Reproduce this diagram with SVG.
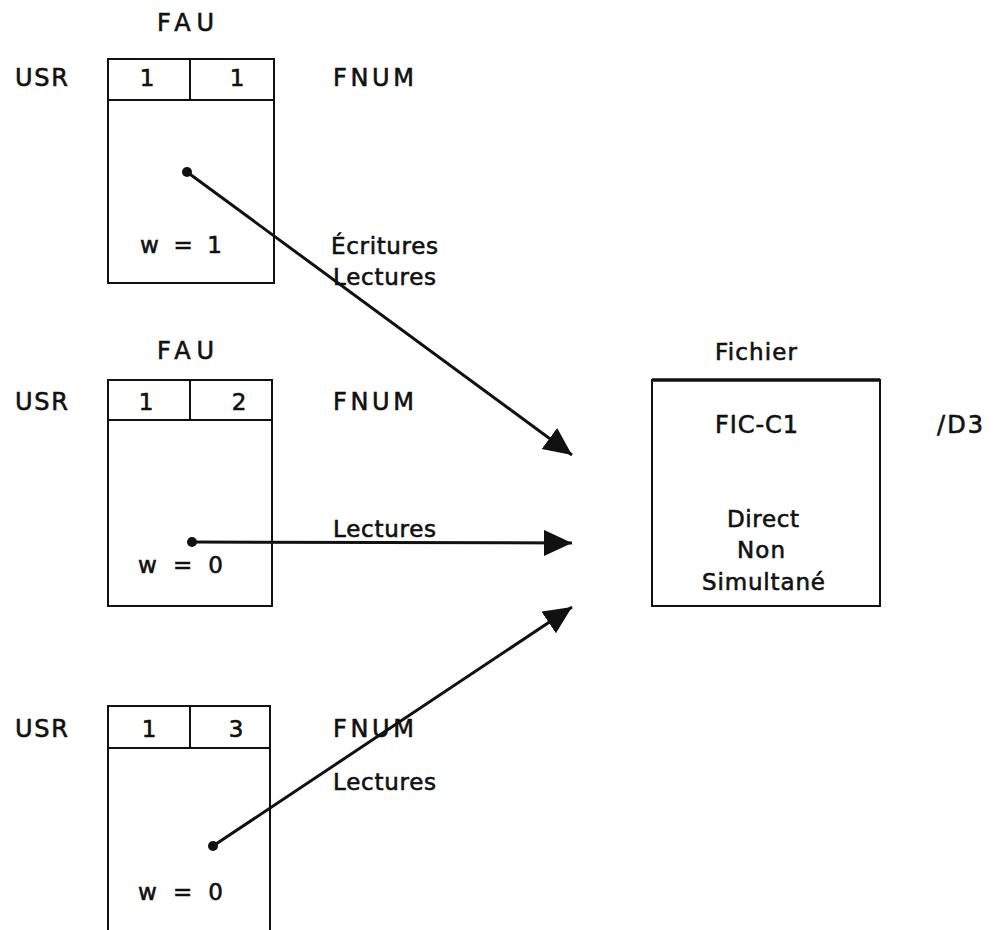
<svg xmlns="http://www.w3.org/2000/svg" width="995" height="930" viewBox="0 0 995 930">
<style>
  text { font-family: "DejaVu Sans", "Liberation Sans", sans-serif; font-size: 23px; fill: #111; stroke: #111; stroke-width: 0.6; }
  .cap { font-size: 24px; }
  .c { text-anchor: middle; }
  .box { fill: none; stroke: #111; stroke-width: 2; }
  .con { fill: none; stroke: #111; stroke-width: 3; }
  .dot { fill: #111; }
</style>
<defs>
  <marker id="ah" markerUnits="userSpaceOnUse" markerWidth="30" markerHeight="28" refX="28" refY="13" orient="auto">
    <path d="M0,0 L28,13 L0,26 z" fill="#111"/>
  </marker>
</defs>
<rect width="995" height="930" fill="#fff"/>

<g id="fau1">
  <text class="cap" x="157" y="31" textLength="57" lengthAdjust="spacing">FAU</text>
  <text class="cap" x="15" y="86" textLength="53" lengthAdjust="spacing">USR</text>
  <rect class="box" x="108" y="59" width="166" height="224"/>
  <line class="box" x1="108" y1="100" x2="274" y2="100"/>
  <line class="box" x1="190" y1="59" x2="190" y2="100"/>
  <text class="c" x="147" y="86">1</text>
  <text class="c" x="237" y="86">1</text>
  <text class="cap" x="333" y="86" textLength="81" lengthAdjust="spacing">FNUM</text>
  <text x="140" y="253" textLength="82" lengthAdjust="spacing">w = 1</text>
</g>

<g id="fau2">
  <text class="cap" x="157" y="359" textLength="57" lengthAdjust="spacing">FAU</text>
  <text class="cap" x="15" y="410" textLength="53" lengthAdjust="spacing">USR</text>
  <rect class="box" x="108" y="380" width="164" height="226"/>
  <line class="box" x1="108" y1="420" x2="272" y2="420"/>
  <line class="box" x1="190" y1="380" x2="190" y2="420"/>
  <text class="c" x="146" y="410">1</text>
  <text class="c" x="239" y="410">2</text>
  <text class="cap" x="333" y="410" textLength="81" lengthAdjust="spacing">FNUM</text>
  <text x="138" y="573" textLength="85" lengthAdjust="spacing">w = 0</text>
</g>

<g id="fau3">
  <text class="cap" x="15" y="737" textLength="53" lengthAdjust="spacing">USR</text>
  <path class="box" d="M108,935 L108,706 L270,706 L270,935"/>
  <line class="box" x1="108" y1="748" x2="270" y2="748"/>
  <line class="box" x1="190" y1="706" x2="190" y2="748"/>
  <text class="c" x="149" y="737">1</text>
  <text class="c" x="236" y="737">3</text>
  <text class="cap" x="333" y="737" textLength="81" lengthAdjust="spacing">FNUM</text>
  <text x="138" y="900" textLength="85" lengthAdjust="spacing">w = 0</text>
</g>

<g id="fichier">
  <text x="715" y="360" textLength="82" lengthAdjust="spacing">Fichier</text>
  <rect class="box" x="652" y="380" width="228" height="226"/>
  <line x1="652" y1="380" x2="880" y2="380" stroke="#111" stroke-width="3.5"/>
  <text class="cap" x="715" y="433" textLength="83" lengthAdjust="spacing">FIC-C1</text>
  <text class="cap" x="937" y="433" textLength="46" lengthAdjust="spacing">/D3</text>
  <text x="727" y="527" textLength="72" lengthAdjust="spacing">Direct</text>
  <text x="737" y="558" textLength="48" lengthAdjust="spacing">Non</text>
  <text x="702" y="590" textLength="123" lengthAdjust="spacing">Simultané</text>
</g>

<g id="connectors">
  <circle class="dot" cx="187" cy="172" r="5"/>
  <line class="con" x1="187" y1="172" x2="572" y2="455" marker-end="url(#ah)"/>
  <circle class="dot" cx="192" cy="542" r="5"/>
  <line class="con" x1="192" y1="542" x2="572" y2="543" stroke-width="4" marker-end="url(#ah)"/>
  <circle class="dot" cx="213" cy="846" r="5"/>
  <line class="con" x1="213" y1="846" x2="572" y2="607" marker-end="url(#ah)"/>
  <text x="331" y="254" textLength="107" lengthAdjust="spacing">Écritures</text>
  <text x="333" y="285" textLength="103" lengthAdjust="spacing">Lectures</text>
  <text x="333" y="537" textLength="103" lengthAdjust="spacing">Lectures</text>
  <text x="333" y="790" textLength="103" lengthAdjust="spacing">Lectures</text>
</g>
</svg>
